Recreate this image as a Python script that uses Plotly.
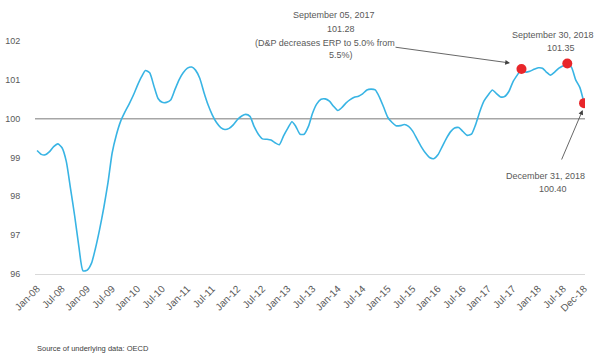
import plotly.graph_objects as go
import pandas as pd

# ---- data ----
months = pd.date_range("2008-01-01", "2018-12-01", freq="MS")
index_values = [
    99.18, 99.08, 99.07, 99.15, 99.28, 99.35, 99.25, 98.90, 98.20, 97.50, 96.70, 96.08,
    96.10, 96.28, 96.65, 97.15, 97.70, 98.35, 99.11, 99.58, 99.93, 100.16, 100.37, 100.59,
    100.85, 101.08, 101.24, 101.18, 100.85, 100.52, 100.42, 100.42, 100.48, 100.74, 101.00, 101.18,
    101.30, 101.33, 101.25, 101.04, 100.68, 100.35, 100.10, 99.90, 99.77, 99.72, 99.75, 99.84,
    99.98, 100.07, 100.11, 100.06, 99.80, 99.60, 99.48, 99.47, 99.45, 99.38, 99.33, 99.55,
    99.75, 99.92, 99.80, 99.60, 99.60, 99.80, 100.14, 100.38, 100.50, 100.51, 100.45, 100.32,
    100.21, 100.29, 100.40, 100.49, 100.55, 100.58, 100.64, 100.74, 100.76, 100.74, 100.55, 100.30,
    100.03, 99.90, 99.82, 99.82, 99.85, 99.80, 99.68, 99.48, 99.28, 99.12, 99.00, 98.97,
    99.07, 99.28, 99.48, 99.66, 99.76, 99.77, 99.67, 99.57, 99.60, 99.84, 100.18, 100.45,
    100.61, 100.74, 100.65, 100.56, 100.57, 100.70, 100.95, 101.12, 101.27, 101.20, 101.22, 101.27,
    101.31, 101.30, 101.20, 101.12, 101.20, 101.30, 101.36, 101.42, 101.32, 101.00, 100.80, 100.40,
]
marker_dates = ["2017-09-01", "2018-08-01", "2018-12-01"]
marker_values = [101.28, 101.42, 100.40]

tick_dates = [
    "2008-01-01", "2008-07-01", "2009-01-01", "2009-07-01", "2010-01-01", "2010-07-01",
    "2011-01-01", "2011-07-01", "2012-01-01", "2012-07-01", "2013-01-01", "2013-07-01",
    "2014-01-01", "2014-07-01", "2015-01-01", "2015-07-01", "2016-01-01", "2016-07-01",
    "2017-01-01", "2017-07-01", "2018-01-01", "2018-07-01", "2018-12-01",
]
tick_labels = [
    "Jan-08", "Jul-08", "Jan-09", "Jul-09", "Jan-10", "Jul-10", "Jan-11", "Jul-11",
    "Jan-12", "Jul-12", "Jan-13", "Jul-13", "Jan-14", "Jul-14", "Jan-15", "Jul-15",
    "Jan-16", "Jul-16", "Jan-17", "Jul-17", "Jan-18", "Jul-18", "Dec-18",
]
y_ticks = [96, 97, 98, 99, 100, 101, 102]

FONT = "Liberation Sans, Arial, sans-serif"
TXT = "#595959"

# layout geometry (pixels)
W, H = 600, 363
ML, MR, MT, MB = 35, 15, 41, 89
PW = W - ML - MR
PH = H - MT - MB


def px_x(px):
    return (px - ML) / PW


def px_y(py):
    return (H - MB - py) / PH


fig = go.Figure()
fig.add_trace(go.Scatter(
    x=months, y=index_values, mode="lines",
    line=dict(color="#38b4e4", width=1.6, shape="spline", smoothing=0.6),
    hoverinfo="skip", showlegend=False,
))
fig.add_trace(go.Scatter(
    x=marker_dates, y=marker_values, mode="markers",
    marker=dict(color="#e8262a", size=10, line=dict(width=0)),
    showlegend=False,
))

fig.add_shape(type="line", xref="paper", x0=0, x1=1, yref="y", y0=100, y1=100,
              line=dict(color="#a6a6a6", width=1.5), layer="below")

text_lines = [
    ("September 05, 2017", 333.7, 15),
    ("101.28", 341, 29.3),
    ("(D&P decreases ERP to 5.0% from", 324.5, 43),
    ("5.5%)", 341, 55.3),
    ("September 30, 2018", 553, 35),
    ("101.35", 560.5, 47.7),
    ("December 31, 2018", 545, 176),
    ("100.40", 553, 189),
]
annotations = []
for t, cx, cy in text_lines:
    annotations.append(dict(text=t, xref="paper", yref="paper", x=px_x(cx), y=px_y(cy),
                            xanchor="center", yanchor="middle", showarrow=False,
                            font=dict(family=FONT, size=9, color=TXT)))

for hx, hy, tx, ty in [(510, 63, 394, 47), (582.7, 110, 561, 161)]:
    annotations.append(dict(text="", xref="paper", yref="paper", x=px_x(hx), y=px_y(hy),
                            ax=tx - hx, ay=ty - hy, showarrow=True, arrowhead=2,
                            arrowsize=1.2, arrowwidth=0.8, arrowcolor="#404040", standoff=0))

annotations.append(dict(text="Source of underlying data: OECD", xref="paper", yref="paper",
                        x=px_x(35), y=px_y(348.5), xanchor="left", yanchor="middle",
                        showarrow=False, font=dict(family=FONT, size=7.5, color="#404040")))

fig.update_layout(
    width=W, height=H,
    margin=dict(l=ML, r=MR, t=MT, b=MB, autoexpand=False),
    paper_bgcolor="white", plot_bgcolor="white",
    font=dict(family=FONT, color=TXT),
    annotations=annotations,
    xaxis=dict(
        type="date", range=["2007-12-17", "2018-12-08"], automargin=False,
        tickmode="array", tickvals=tick_dates, ticktext=tick_labels,
        tickangle=-45, tickfont=dict(family=FONT, size=10, color=TXT),
        showgrid=False, zeroline=False, showline=True, linecolor="#d9d9d9", linewidth=1,
        ticks="outside", ticklen=4, tickcolor="rgba(0,0,0,0)",
    ),
    yaxis=dict(
        range=[96, 102], tickmode="array", tickvals=y_ticks, automargin=False,
        ticktext=[str(v) for v in y_ticks],
        tickfont=dict(family=FONT, size=9, color=TXT),
        showgrid=False, zeroline=False, showline=False,
        ticks="outside", ticklen=12, tickcolor="rgba(0,0,0,0)",
    ),
)

fig.write_html("out.html", config={"displayModeBar": False},
               post_script="document.body.style.margin='0';")
